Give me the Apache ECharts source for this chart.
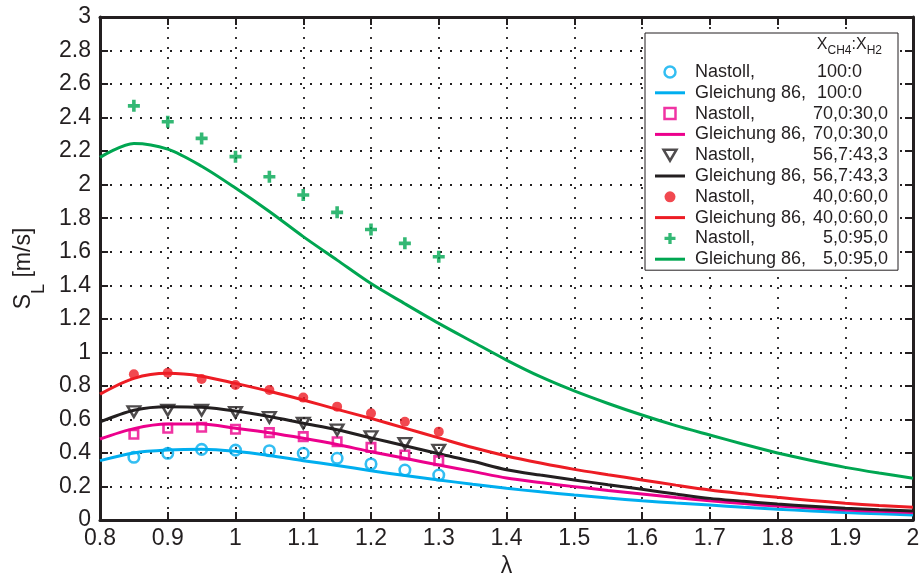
<!DOCTYPE html>
<html><head><meta charset="utf-8">
<script src="https://cdn.jsdelivr.net/npm/echarts@6/dist/echarts.min.js"></script>
<style>html,body{margin:0;padding:0;background:#fff}#c{width:923px;height:580px}</style>
</head><body><div id="c"></div>
<script>
// ---- data ----
const ratios = ['100:0', '70,0:30,0', '56,7:43,3', '40,0:60,0', '5,0:95,0'];
const xMeas = [0.85, 0.9, 0.95, 1.0, 1.05, 1.1, 1.15, 1.2, 1.25, 1.3];
const meas100 = [0.374, 0.398, 0.421, 0.417, 0.413, 0.398, 0.368, 0.334, 0.298, 0.268];
const meas70  = [0.511, 0.547, 0.553, 0.541, 0.521, 0.497, 0.467, 0.433, 0.388, 0.354];
const meas57  = [0.646, 0.655, 0.655, 0.642, 0.612, 0.577, 0.537, 0.497, 0.457, 0.417];
const meas40  = [0.869, 0.878, 0.841, 0.805, 0.775, 0.730, 0.676, 0.636, 0.586, 0.527];
const meas5   = [2.47, 2.375, 2.276, 2.167, 2.047, 1.938, 1.835, 1.733, 1.65, 1.57];

const xCalc = [0.8, 0.85, 0.9, 0.95, 1.0, 1.05, 1.1, 1.15, 1.2, 1.25, 1.3, 1.35, 1.4,
               1.45, 1.5, 1.55, 1.6, 1.65, 1.7, 1.75, 1.8, 1.85, 1.9, 1.95, 2.0];
const calc100 = [0.354, 0.400, 0.417, 0.422, 0.410, 0.385, 0.354, 0.325, 0.294, 0.265, 0.239, 0.213, 0.189,
                 0.168, 0.149, 0.131, 0.115, 0.101, 0.089, 0.076, 0.064, 0.054, 0.044, 0.037, 0.030];
const calc70  = [0.483, 0.545, 0.572, 0.572, 0.547, 0.520, 0.487, 0.450, 0.407, 0.368, 0.328, 0.290, 0.250,
                 0.223, 0.199, 0.176, 0.155, 0.134, 0.115, 0.098, 0.083, 0.072, 0.060, 0.052, 0.044];
const calc57  = [0.585, 0.655, 0.676, 0.672, 0.650, 0.617, 0.577, 0.538, 0.490, 0.443, 0.395, 0.350, 0.300,
                 0.268, 0.239, 0.210, 0.183, 0.155, 0.129, 0.112, 0.095, 0.082, 0.070, 0.061, 0.054];
const calc40  = [0.751, 0.845, 0.875, 0.858, 0.815, 0.768, 0.716, 0.660, 0.606, 0.548, 0.490, 0.432, 0.382,
                 0.340, 0.302, 0.270, 0.239, 0.208, 0.179, 0.156, 0.135, 0.117, 0.100, 0.087, 0.076];
const calc5   = [2.163, 2.246, 2.212, 2.110, 1.980, 1.840, 1.690, 1.550, 1.410, 1.290, 1.173, 1.063, 0.954,
                 0.855, 0.770, 0.695, 0.626, 0.563, 0.507, 0.452, 0.400, 0.355, 0.314, 0.280, 0.249];

const measSets = [meas100, meas70, meas57, meas40, meas5];
const calcSets = [calc100, calc70, calc57, calc40, calc5];
const colors = ['#00aeef', '#ec008c', '#231f20', '#ed1c24', '#00a651'];

// ---- styles ----
const INK = '#231f20';
const FONT = 'Liberation Sans, Arial, Helvetica, sans-serif';
const LINE_ICON = 'path://M0,0H30V3H0Z';
const markerDefs = [
  { symbol: 'circle', symbolSize: 10.5, hollow: true, bw: 2.6 },
  { symbol: 'path://M0,0H10V10H0Z', symbolSize: 8.5, hollow: true, bw: 2.6 },
  { symbol: 'path://M0,0L20,0L10,17Z', symbolSize: [12.5, 10.5], hollow: true, bw: 2.5 },
  { symbol: 'circle', symbolSize: 10, hollow: false },
  { symbol: 'path://M3.5,0H6.5V3.5H10V6.5H6.5V10H3.5V6.5H0V3.5H3.5Z', symbolSize: 12, hollow: false }
];

const series = [];
const legendData = [];
ratios.forEach((r, i) => {
  const c = colors[i];
  const m = markerDefs[i];
  const nMeas = 'Nastoll, ' + r;
  const nCalc = 'Gleichung 86, ' + r;
  legendData.push(m.hollow ? { name: nMeas, itemStyle: { borderWidth: 2.5 } } : { name: nMeas });
  legendData.push({ name: nCalc, icon: LINE_ICON });
  series.push({
    name: nMeas, type: 'scatter', z: 3,
    data: xMeas.map((x, k) => [x, measSets[i][k]]),
    symbol: m.symbol, symbolSize: m.symbolSize,
    itemStyle: m.hollow ? { color: 'rgba(255,255,255,0)', borderColor: c, borderWidth: m.bw }
                        : { color: c, borderWidth: 0 },
    emphasis: { disabled: true }
  });
  series.push({
    name: nCalc, type: 'line', z: 2,
    data: xCalc.map((x, k) => [x, calcSets[i][k]]),
    smooth: 0.3, symbol: 'none', showSymbol: false,
    lineStyle: { color: c, width: 3 },
    itemStyle: { color: c },
    emphasis: { disabled: true }
  });
});

const fmt = v => String(Math.round(v * 10) / 10);
const axisCommon = {
  axisLine: { show: true, onZero: false, lineStyle: { color: INK, width: 3 } },
  axisTick: { show: true, inside: true, length: 8, lineStyle: { color: INK, width: 2 } }
};
const gridLine = { show: true, lineStyle: { color: INK, width: 1.8, type: [2, 8] } };

const chart = echarts.init(document.getElementById('c'));
chart.setOption({
  animation: false,
  backgroundColor: '#fff',
  grid: { left: 100, right: 10, top: 17, bottom: 60, containLabel: false, outerBoundsMode: 'none' },
  xAxis: [
    Object.assign({
      type: 'value', min: 0.8, max: 2.0, interval: 0.1, position: 'bottom',
      name: 'λ', nameLocation: 'middle', nameGap: 32,
      nameTextStyle: { fontSize: 23, color: INK, fontFamily: FONT },
      axisLabel: { fontSize: 23, color: INK, fontFamily: FONT, margin: 7, formatter: fmt },
      splitLine: gridLine
    }, axisCommon),
    Object.assign({
      type: 'value', min: 0.8, max: 2.0, interval: 0.1, position: 'top',
      axisLabel: { show: false }, splitLine: { show: false }
    }, axisCommon)
  ],
  yAxis: [
    Object.assign({
      type: 'value', min: 0, max: 3, interval: 0.2, position: 'left',
      name: '{s|S}{l|L}{s| [m/s]}', nameLocation: 'middle', nameRotate: 90, nameGap: 54,
      nameTextStyle: {
        color: INK, fontFamily: FONT,
        rich: {
          s: { fontSize: 23, lineHeight: 24, fontFamily: FONT, color: INK },
          l: { fontSize: 18, lineHeight: 18, padding: [31, 0, 0, 0], fontFamily: FONT, color: INK }
        }
      },
      axisLabel: { fontSize: 23, color: INK, fontFamily: FONT, margin: 9, formatter: fmt },
      splitLine: gridLine
    }, axisCommon),
    Object.assign({
      type: 'value', min: 0, max: 3, interval: 0.2, position: 'right',
      axisLabel: { show: false }, splitLine: { show: false }
    }, axisCommon)
  ],
  legend: {
    data: legendData,
    orient: 'vertical', left: 645, top: 33,
    padding: [29, 10, 1, 10],
    backgroundColor: '#fff', borderColor: INK, borderWidth: 1,
    itemWidth: 30, itemHeight: 11, itemGap: 0.8,
    selectedMode: false,
    textStyle: {
      fontSize: 18, lineHeight: 20, color: INK, fontFamily: FONT,
      rich: {
        a: { fontSize: 18, lineHeight: 20, width: 118, padding: [0, 0, 0, 5], color: INK, fontFamily: FONT },
        b: { fontSize: 18, lineHeight: 20, width: 75, align: 'right', color: INK, fontFamily: FONT },
        c: { fontSize: 18, lineHeight: 20, width: 49, align: 'right', padding: [0, 26, 0, 0], color: INK, fontFamily: FONT }
      }
    },
    formatter: name => {
      const i = name.indexOf(', ');
      const a = name.slice(0, i + 1);
      const b = name.slice(i + 2);
      return '{a|' + a + '}{' + (b === '100:0' ? 'c' : 'b') + '|' + b + '}';
    }
  },
  graphic: [{
    type: 'text', z: 100, x: 882, y: 37,
    style: {
      text: '{x|X}{s|CH4}{x|:X}{s|H2}', align: 'right', verticalAlign: 'top',
      rich: {
        x: { fontSize: 16, lineHeight: 16, fill: INK, fontFamily: FONT },
        s: { fontSize: 12, lineHeight: 12, padding: [11, 0, 0, 0], fill: INK, fontFamily: FONT }
      }
    }
  }],
  series: series
});
</script></body></html>
